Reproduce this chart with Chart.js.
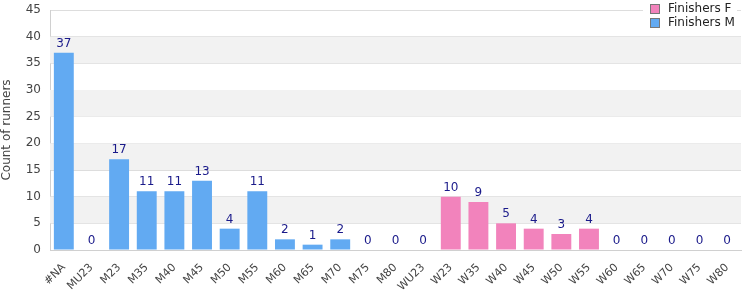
<!DOCTYPE html>
<html>
<head>
<meta charset="utf-8">
<script src="https://cdn.jsdelivr.net/npm/chart.js@4"></script>
<style>
    html, body { margin: 0; padding: 0; background: #fff; }
    #wrap { width: 750px; height: 300px; position: relative; }
</style>
</head>
<body>
<div id="wrap"><canvas id="runnersChart"></canvas></div>
<script>
const categories = ["#NA", "MU23", "M23", "M35", "M40", "M45", "M50", "M55", "M60", "M65", "M70", "M75", "M80",
    "WU23", "W23", "W35", "W40", "W45", "W50", "W55", "W60", "W65", "W70", "W75", "W80"];
const maleCounts = [37, 0, 17, 11, 11, 13, 4, 11, 2, 1, 2, 0, 0,
    null, null, null, null, null, null, null, null, null, null, null, null];
const femaleCounts = [null, null, null, null, null, null, null, null, null, null, null, null, null,
    0, 10, 9, 5, 4, 3, 4, 0, 0, 0, 0, 0];
const yTicks = [0, 5, 10, 15, 20, 25, 30, 35, 40, 45];

const blue = "#62aaf2";
const pink = "#f283bc";
const fontFamily = "'DejaVu Sans', Verdana, sans-serif";

// alternating grey bands between every other pair of gridlines
const bandPlugin = {
    id: "bands",
    beforeDatasetsDraw(chart) {
        const { ctx, chartArea, scales } = chart;
        const y = scales.y;
        ctx.save();
        ctx.fillStyle = "#f2f2f2";
        for (let i = 1; i < yTicks.length - 1; i += 2) {
            const top = y.getPixelForValue(yTicks[i + 1]);
            const bottom = y.getPixelForValue(yTicks[i]);
            ctx.fillRect(chartArea.left, top, chartArea.right - chartArea.left, bottom - top);
        }
        ctx.restore();
    }
};

const valueLabels = {
    id: "valueLabels",
    afterDatasetsDraw(chart) {
        const { ctx, scales } = chart;
        ctx.save();
        ctx.fillStyle = "#1a1a8a";
        ctx.font = "12px " + fontFamily;
        ctx.textAlign = "center";
        ctx.textBaseline = "bottom";
        categories.forEach((cat, i) => {
            const v = maleCounts[i] !== null ? maleCounts[i] : femaleCounts[i];
            if (v === null) return;
            const x = scales.x.getPixelForValue(i);
            const y = scales.y.getPixelForValue(v);
            ctx.fillText(String(v), x, y - 3);
        });
        ctx.restore();
    }
};

const boxLegend = {
    id: "boxLegend",
    afterDraw(chart) {
        const { ctx } = chart;
        ctx.save();
        ctx.fillStyle = "#fff";
        ctx.fillRect(643, 0, 94, 32);
        const items = [["Finishers F", pink], ["Finishers M", blue]];
        ctx.font = "12px " + fontFamily;
        ctx.textBaseline = "middle";
        items.forEach((it, k) => {
            const cy = 9 + k * 14;
            ctx.fillStyle = it[1];
            ctx.fillRect(651, cy - 4, 8, 8);
            ctx.strokeStyle = "#777";
            ctx.lineWidth = 1;
            ctx.strokeRect(650.5, cy - 4.5, 9, 9);
            ctx.fillStyle = "#222";
            ctx.fillText(it[0], 668, cy);
        });
        ctx.restore();
    }
};

new Chart(document.getElementById("runnersChart"), {
    type: "bar",
    data: {
        labels: categories,
        datasets: [
            { label: "Finishers M", data: maleCounts, backgroundColor: blue, barPercentage: 0.72, categoryPercentage: 1 },
            { label: "Finishers F", data: femaleCounts, backgroundColor: pink, barPercentage: 0.72, categoryPercentage: 1 }
        ]
    },
    options: {
        responsive: true,
        maintainAspectRatio: false,
        animation: false,
        layout: { padding: { top: 10, right: 9, left: 0, bottom: 0 } },
        plugins: { legend: { display: false }, tooltip: { enabled: false } },
        scales: {
            x: {
                stacked: true,
                afterFit: axis => { axis.height = 50; },
                grid: { display: false },
                border: { color: "#d0d0d0" },
                ticks: { minRotation: 45, maxRotation: 45, autoSkip: false, color: "#444", font: { size: 11, family: fontFamily } }
            },
            y: {
                stacked: true,
                min: 0,
                max: 45,
                afterFit: axis => { axis.width = 50; axis.paddingTop = 0; axis.paddingBottom = 0; },
                afterBuildTicks: axis => { axis.ticks = yTicks.map(v => ({ value: v })); },
                grid: { color: "#dddddd", drawTicks: false },
                border: { color: "#d0d0d0" },
                ticks: { padding: 9, color: "#444", font: { size: 12, family: fontFamily } },
                title: { display: true, text: "Count of runners", color: "#444", padding: { top: 0, bottom: 0 }, font: { size: 12, family: fontFamily } }
            }
        }
    },
    plugins: [bandPlugin, valueLabels, boxLegend]
});
</script>
</body>
</html>
